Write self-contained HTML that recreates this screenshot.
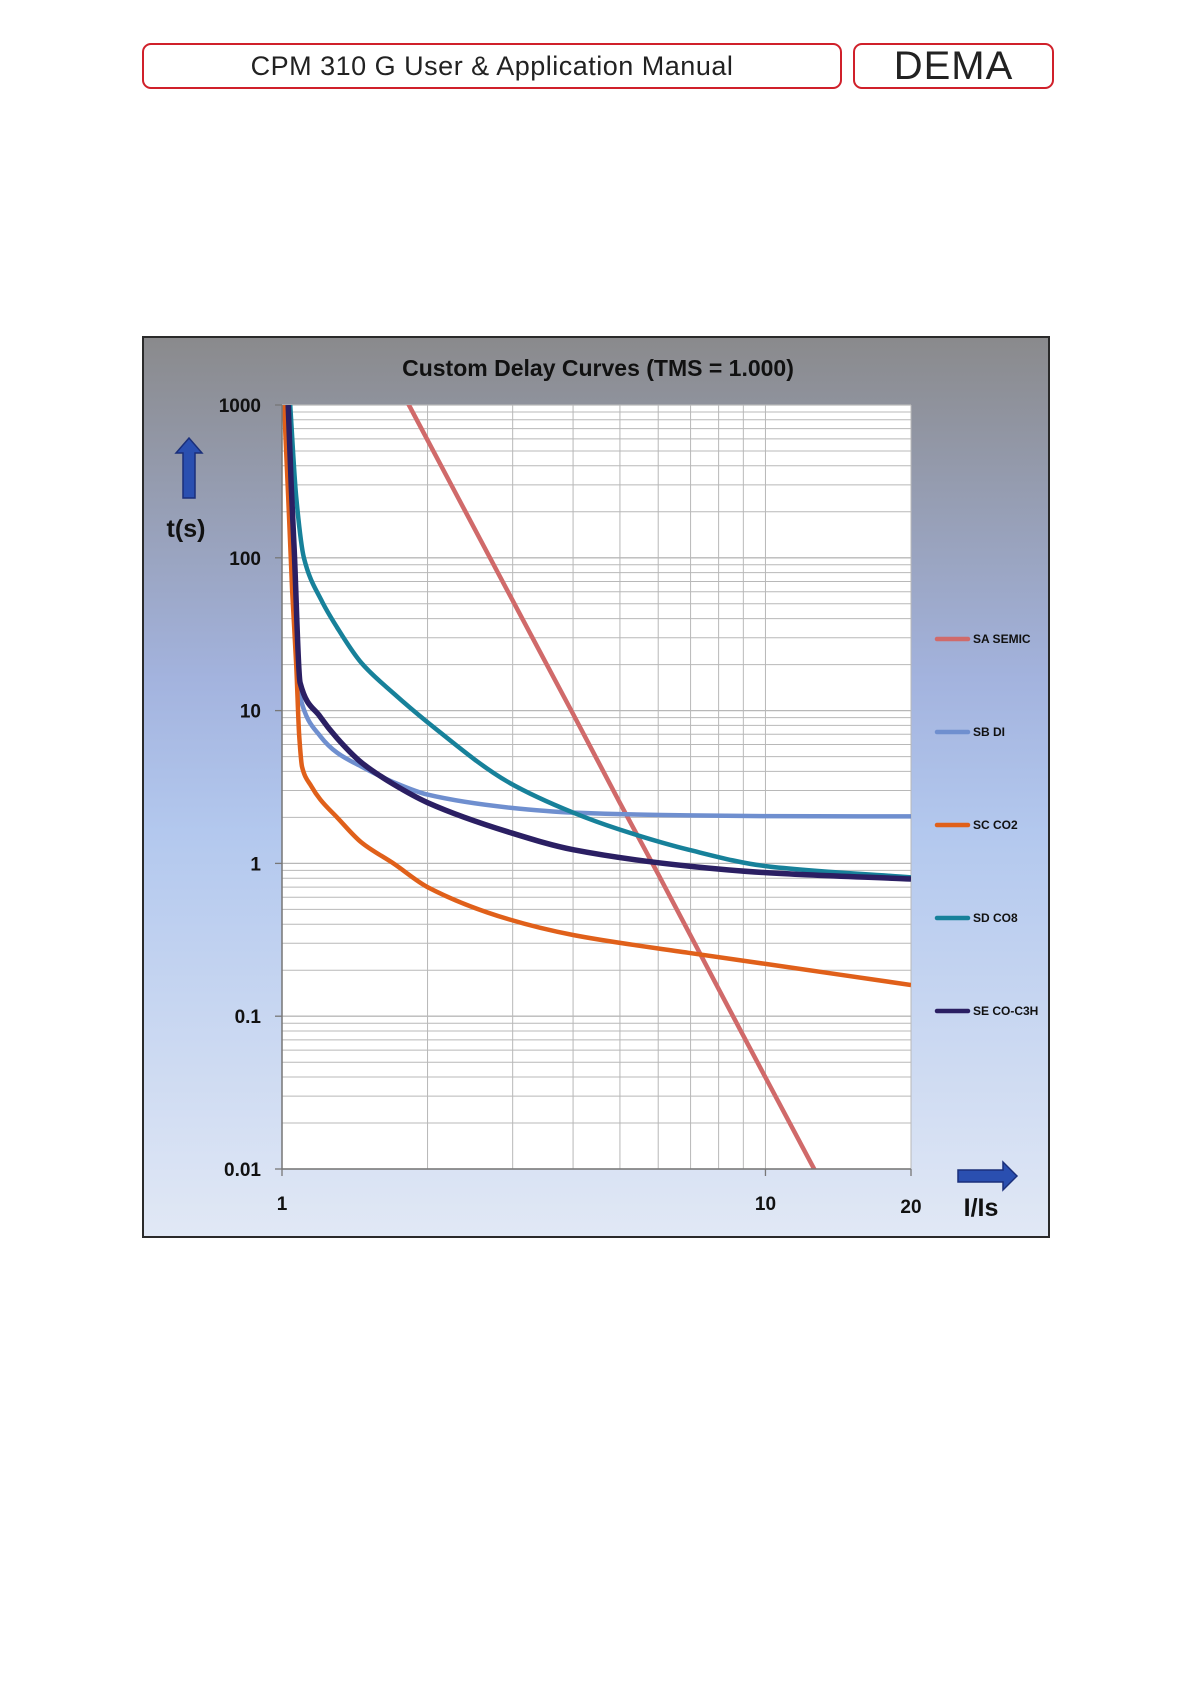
<!DOCTYPE html>
<html><head><meta charset="utf-8"><style>
html,body{margin:0;padding:0;background:#fff;}
body{width:1191px;height:1684px;position:relative;overflow:hidden;font-family:"Liberation Sans",sans-serif;}
.hbox{position:absolute;border:2.5px solid #d0202a;border-radius:9px;box-sizing:border-box;display:flex;align-items:center;justify-content:center;color:#222;}
</style></head><body>
<div class="hbox" style="left:142px;top:43px;width:700px;height:46px;font-size:27px;letter-spacing:0.5px;">CPM 310 G User &amp; Application Manual</div>
<div class="hbox" style="left:853px;top:43px;width:201px;height:46px;font-size:40px;letter-spacing:1px;">DEMA</div>

<svg id="chart" width="1191" height="1684" style="position:absolute;left:0;top:0" xmlns="http://www.w3.org/2000/svg">
<defs>
<linearGradient id="bg" x1="0" y1="0" x2="0" y2="1">
<stop offset="0" stop-color="#8a8a8c"/>
<stop offset="0.38" stop-color="#a3b3de"/>
<stop offset="0.55" stop-color="#b3c8ee"/>
<stop offset="1" stop-color="#e1e8f5"/>
</linearGradient>
</defs>
<rect x="143" y="337" width="906" height="900" fill="url(#bg)" stroke="#2a2a2a" stroke-width="2"/>
<text x="598" y="376" text-anchor="middle" font-size="23" font-weight="bold" fill="#111">Custom Delay Curves (TMS = 1.000)</text>
<rect x="282" y="405" width="629" height="764" fill="#fff"/>
<g id="grid"></g>
<g id="series"></g>
<g id="axes"></g>
<g id="legend"></g>
<path d="M183,498 L183,453 L176,453 L189,438 L202,453 L195,453 L195,498 Z" fill="#2a4fb0" stroke="#1a2f7a" stroke-width="1.5"/>
<text x="186" y="537" text-anchor="middle" font-size="25" font-weight="bold" fill="#111">t(s)</text>
<path d="M958,1170 L1003,1170 L1003,1162 L1017,1176 L1003,1190 L1003,1182 L958,1182 Z" fill="#2a4fb0" stroke="#1a2f7a" stroke-width="1.5"/>
<text x="981" y="1216" text-anchor="middle" font-size="25" font-weight="bold" fill="#111">I/Is</text>
</svg>
<script>
const yTicks=[1000,100,10,1,0.1,0.01];
const yTickLabels=["1000","100","10","1","0.1","0.01"];
const xTicks=[1,10,20];
const xTickLabels=["1","10","20"];
const xGrid=[2,3,4,5,6,7,8,9,10];
const seriesNames=["SA SEMIC","SB DI","SC CO2","SD CO8","SE CO-C3H"];
const seriesColors=["#d06a6a","#6f8fcf","#e0601a","#17819a","#2b1f63"];
const saX=[1.8,2,3,4,5,6,8,10,12.7];
const saT=[1104,589,52.5,9.5,2.49,0.85,0.151,0.0397,0.0096];
const sbX=[1.025,1.04,1.06,1.09,1.2,1.3,1.46,1.7,2,2.95,4,6.93,10,20];
const sbT=[1000,200,40,12.3,6.8,5.3,4.3,3.4,2.82,2.32,2.15,2.06,2.04,2.03];
const scX=[1.01,1.03,1.05,1.07,1.085,1.1,1.15,1.2,1.3,1.46,1.7,2,2.95,4,6.93,10,20];
const scT=[1000,250,60,20,7,4.3,3.2,2.62,2.0,1.37,1.0,0.7,0.43,0.34,0.26,0.22,0.16];
const sdX=[1.04,1.07,1.11,1.205,1.3,1.46,1.7,2,2.95,4,4.98,6.93,10,20];
const sdT=[1000,250,100,53,35,20.5,13,8.4,3.38,2.15,1.67,1.23,0.96,0.81];
const seX=[1.03,1.045,1.06,1.09,1.2,1.3,1.46,1.7,2,2.95,4,6.93,10,20];
const seT=[1000,300,113,15.2,9.1,6.6,4.57,3.3,2.5,1.6,1.23,0.96,0.87,0.79];

const NS="http://www.w3.org/2000/svg";
const L=282,R=911,T=405,B=1169;
const xMin=1,xMax=20,yMin=0.01,yMax=1000;
function X(v){return L+(R-L)*Math.log10(v/xMin)/Math.log10(xMax/xMin);}
function Y(v){return B-(B-T)*Math.log10(v/yMin)/Math.log10(yMax/yMin);}
function mk(tag,attrs,parent){const e=document.createElementNS(NS,tag);for(const k in attrs)e.setAttribute(k,attrs[k]);parent.appendChild(e);return e;}
function monotone(pts){
const n=pts.length,dx=[],s=[],m=[];
for(let i=0;i<n-1;i++){dx[i]=pts[i+1][0]-pts[i][0];s[i]=(pts[i+1][1]-pts[i][1])/dx[i];}
m[0]=s[0];m[n-1]=s[n-2];
for(let i=1;i<n-1;i++){m[i]=(s[i-1]*s[i]<=0)?0:(3*(dx[i-1]+dx[i]))/((2*dx[i]+dx[i-1])/s[i-1]+(dx[i]+2*dx[i-1])/s[i]);}
let d='M'+pts[0][0].toFixed(1)+','+pts[0][1].toFixed(1);
for(let i=0;i<n-1;i++){const h=dx[i]/3;
d+='C'+(pts[i][0]+h).toFixed(1)+','+(pts[i][1]+m[i]*h).toFixed(1)+' '+(pts[i+1][0]-h).toFixed(1)+','+(pts[i+1][1]-m[i+1]*h).toFixed(1)+' '+pts[i+1][0].toFixed(1)+','+pts[i+1][1].toFixed(1);}
return d;}
const grid=document.getElementById('grid'),axes=document.getElementById('axes'),ser=document.getElementById('series'),leg=document.getElementById('legend');
for(let d=0.01;d<999;d*=10){for(let m=1;m<=9;m++){const v=d*m;const y=Y(v);
const ln=mk('line',{x1:L,x2:R,y1:y,y2:y,stroke:'#b8b8b8','stroke-width':m===1?1.3:1},grid);

}}
const topLine=mk('line',{x1:L,x2:R,y1:T,y2:T,stroke:'#b8b8b8','stroke-width':1.3},grid);


xGrid.forEach(v=>{const x=X(v);
const ln=mk('line',{x1:x,x2:x,y1:T,y2:B,stroke:'#b8b8b8','stroke-width':1},grid);

});
const rl=mk('line',{x1:R,x2:R,y1:T,y2:B,stroke:'#b8b8b8','stroke-width':1},grid);


const ya=mk('line',{x1:L,x2:L,y1:T,y2:B,stroke:'#777','stroke-width':1.5},axes);


const xa=mk('line',{x1:L,x2:R,y1:B,y2:B,stroke:'#777','stroke-width':1.5},axes);


yTicks.forEach((v,i)=>{const y=Y(v);
mk('line',{x1:L-7,x2:L,y1:y,y2:y,stroke:'#777','stroke-width':1.3},axes);
const t=mk('text',{x:261,y:y+7,'text-anchor':'end','font-size':19,'font-weight':'bold',fill:'#111'},axes);
t.textContent=yTickLabels[i];

});
xTicks.forEach((v,i)=>{const x=X(v);
mk('line',{x1:x,x2:x,y1:B,y2:B+7,stroke:'#777','stroke-width':1.3},axes);
const t=mk('text',{x:x,y:v===20?1213:1210,'text-anchor':'middle','font-size':19,'font-weight':'bold',fill:'#111'},axes);
t.textContent=xTickLabels[i];

});
const clip=mk('clipPath',{id:'pc'},document.getElementById('chart'));
mk('rect',{x:L,y:T,width:R-L,height:B-T},clip);
const data=[[saX,saT],[sbX,sbT],[scX,scT],[sdX,sdT],[seX,seT]];
const widths=[4.5,4.5,4.5,4.5,5.5];
data.forEach((s,i)=>{
const pts=s[0].map((x,j)=>[X(x),Y(s[1][j])]);
const p=mk('path',{d:monotone(pts),fill:'none',stroke:seriesColors[i],'stroke-width':widths[i],'stroke-linejoin':'round','clip-path':'url(#pc)'},ser);

});
const legY=[639,732,825,918,1011];
seriesNames.forEach((n,i)=>{
const g=mk('g',{},leg);


mk('line',{x1:937,x2:968,y1:legY[i],y2:legY[i],stroke:seriesColors[i],'stroke-width':4.5,'stroke-linecap':'round'},g);
const t=mk('text',{x:973,y:legY[i]+4,'font-size':12,'font-weight':'bold',fill:'#111'},g);
t.textContent=n;});
</script>
</body></html>
